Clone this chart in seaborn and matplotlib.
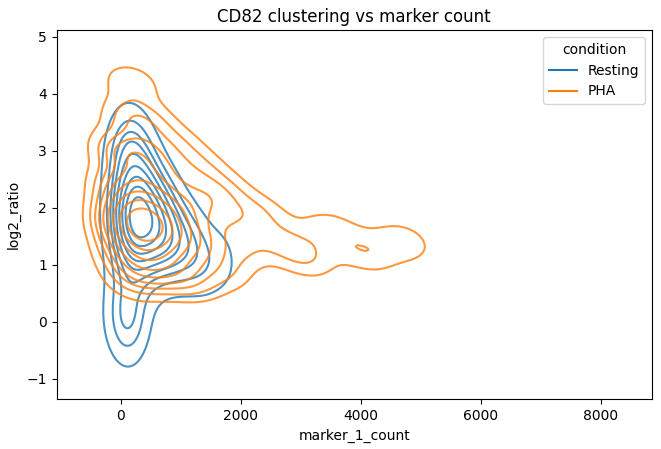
import pandas as pd
import matplotlib
matplotlib.use("Agg")
import matplotlib.pyplot as plt
from matplotlib.lines import Line2D
import seaborn as sns

# Resting cells: (marker_1_count, log2_ratio)
resting_count = [200, 250, 180, 300, 150, 280, 220, 350, 120, 260, 330, 400, 100, 230,
                 50, 450, 100, 500, 180, 380, 0, 550, 200, 350, 600, 650,
                 550, 700, 600, 800, 450,
                 100, 250, 30, 420, 160,
                 700, 800, 900, 1000, 1200, 1400, 1700, 750, 1000, 1200,
                 30, 250, 500,
                 0, 110, 60, 200, 150]
resting_ratio = [1.8, 1.9, 2.0, 1.7, 1.7, 2.1, 1.6, 1.9, 2.0, 1.75, 2.2, 1.7, 1.6, 2.3,
                 2.4, 1.5, 1.3, 2.0, 2.7, 2.5, 1.9, 1.6, 1.25, 1.35, 1.3, 1.9,
                 2.1, 1.8, 1.5, 1.6, 2.4,
                 3.0, 3.1, 2.8, 2.8, 3.3,
                 1.5, 1.2, 1.4, 1.1, 1.2, 1.0, 1.1, 2.2, 1.7, 1.4,
                 1.0, 0.9, 0.9,
                 0.15, -0.05, -0.3, 0.2, 0.4]

# PHA stimulated cells
pha_count = [300, 350, 400, 250, 450, 320, 380, 200, 500, 280, 420, 350, 230, 480, 150, 550,
             100, 150, 650, 700, 200, 500, 300, 800, 50, 450, 850, 300, 950, 600,
             0, 100, 400, 750, 1100, 1200, 1300, 1000, 100, 400, 800, 1400,
             150, 450, 180, 900, 1300, 1700, 1800, 2000, 1700, 200, 1200, 0,
             2300, 2700, 3100, 3500, 4100, 4700]
pha_ratio = [1.7, 1.8, 1.6, 1.9, 1.75, 1.5, 2.0, 1.65, 1.55, 1.85, 1.9, 1.6, 1.45, 2.1, 1.9, 1.7,
             2.2, 1.4, 1.9, 1.4, 2.4, 2.4, 1.2, 1.7, 1.7, 1.2, 2.1, 2.7, 1.5, 1.1,
             2.4, 3.0, 3.0, 2.6, 2.0, 1.6, 1.3, 1.1, 1.1, 0.9, 0.8, 2.2,
             3.6, 3.5, 4.2, 3.1, 2.7, 2.3, 1.8, 1.3, 0.9, 0.7, 0.7, 3.0,
             1.9, 1.4, 1.1, 1.6, 1.2, 1.4]

conditions = ["Resting", "PHA"]
colors = ["#1f77b4", "#ff7f0e"]

df = pd.concat([
    pd.DataFrame({"marker_1_count": resting_count, "log2_ratio": resting_ratio,
                  "condition": "Resting"}),
    pd.DataFrame({"marker_1_count": pha_count, "log2_ratio": pha_ratio,
                  "condition": "PHA"}),
], ignore_index=True)

fig = plt.figure(figsize=(6.61, 4.49), dpi=100)
ax = fig.add_axes([0.086, 0.111, 0.9, 0.822])

# each condition gets its own bandwidth
bw = {"Resting": 1.1, "PHA": 0.7}
for cond, col in zip(conditions, colors):
    sub = df[df["condition"] == cond]
    sns.kdeplot(data=sub, x="marker_1_count", y="log2_ratio", color=col,
                bw_adjust=bw[cond], alpha=0.8, linewidths=1.5, ax=ax)

ax.set_xlim(-1067, 8850)
ax.set_ylim(-1.36, 5.12)
ax.set_title("CD82 clustering vs marker count")
handles = [Line2D([0], [0], color=c, lw=1.5) for c in colors]
ax.legend(handles, conditions, title="condition", loc="upper right")
fig.savefig("out.png", dpi=100)
